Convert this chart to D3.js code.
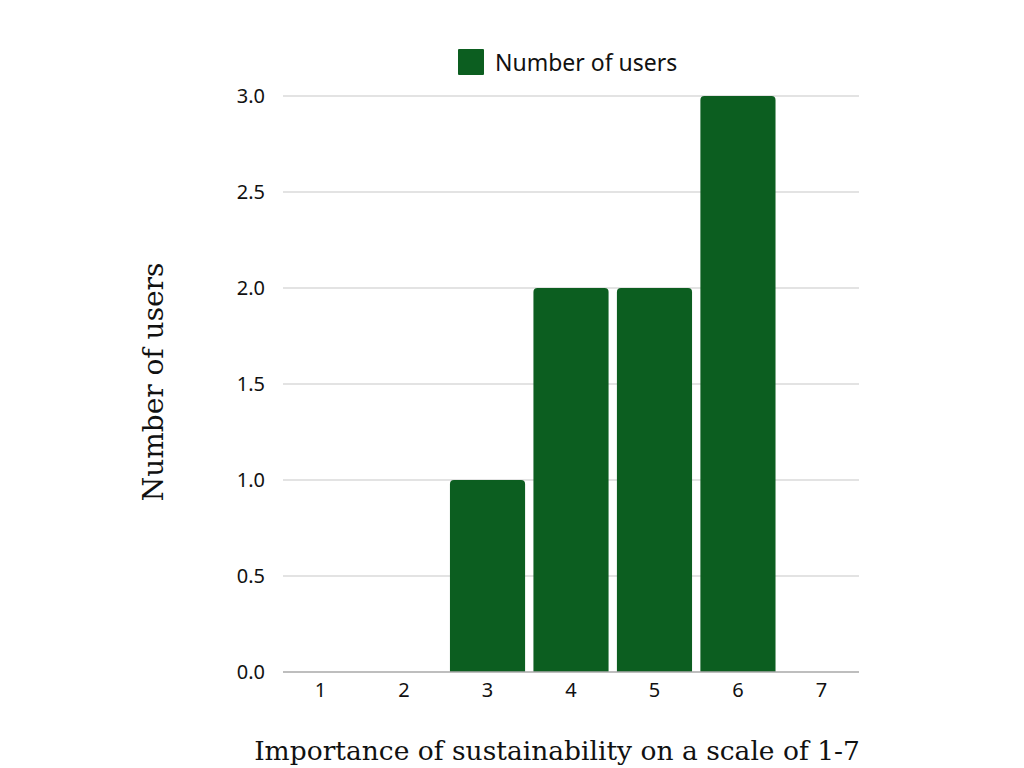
<!DOCTYPE html>
<html><head><meta charset="utf-8">
<script src="https://cdn.jsdelivr.net/npm/d3@7"></script>
<style>body{margin:0;background:#fff}svg{display:block}</style>
</head><body>
<svg id="c" width="1024" height="768"></svg>
<script>
const categories = ["1","2","3","4","5","6","7"];
const values = [0,0,1,2,2,3,0];
const yTicks = [0,0.5,1,1.5,2,2.5,3];
const seriesName = "Number of users";
const xTitle = "Importance of sustainability on a scale of 1-7";
const yTitle = "Number of users";

const svg = d3.select("#c");
const L=283, R=859, T=96, B=672;
const x = d3.scaleBand().domain(categories).range([L,R]).paddingInner(0.1).paddingOuter(0);
const y = d3.scaleLinear().domain([0,3]).range([B,T]);
const color = "#0c5e20";
const sans = "'Noto Sans', 'Open Sans', sans-serif";
const serif = "'DejaVu Serif', serif";

// gridlines
svg.append("g").selectAll("line").data(yTicks.filter(d=>d>0)).join("line")
  .attr("x1",L).attr("x2",R).attr("y1",d=>y(d)).attr("y2",d=>y(d))
  .attr("stroke","#dadada").attr("stroke-width",1.5);

// bars with rounded top corners
const r=4;
svg.append("g").selectAll("path").data(categories.map((c,i)=>({c,v:values[i]})).filter(d=>d.v>0)).join("path")
  .attr("fill",color)
  .attr("d",d=>{
    const x0=x(d.c), w=x.bandwidth(), y0=y(d.v), yb=y(0);
    return `M${x0},${yb}V${y0+r}Q${x0},${y0} ${x0+r},${y0}H${x0+w-r}Q${x0+w},${y0} ${x0+w},${y0+r}V${yb}Z`;
  });

// baseline
svg.append("line").attr("x1",L).attr("x2",R).attr("y1",B).attr("y2",B)
  .attr("stroke","#a8a8a8").attr("stroke-width",1.5);

// y axis labels
const ya = svg.append("g").attr("transform",`translate(${L},0)`)
  .call(d3.axisLeft(y).tickValues(yTicks).tickFormat(d3.format(".1f")).tickSize(0).tickPadding(18));
ya.select(".domain").remove();
ya.selectAll("text").attr("font-family",sans).attr("font-size",20).attr("fill","#111");

// x axis labels
const xa = svg.append("g").attr("transform",`translate(0,${B})`)
  .call(d3.axisBottom(x).tickSize(0).tickPadding(11));
xa.select(".domain").remove();
xa.selectAll("text").attr("font-family",sans).attr("font-size",20).attr("fill","#111");

// titles
svg.append("text").attr("x",557).attr("y",760).attr("text-anchor","middle")
  .attr("font-family",serif).attr("font-size",26.5).attr("fill","#111").text(xTitle);
svg.append("text").attr("transform","translate(163,382) rotate(-90)").attr("text-anchor","middle")
  .attr("font-family",serif).attr("font-size",28).attr("fill","#111").text(yTitle);

// legend
svg.append("rect").attr("x",458).attr("y",49).attr("width",26).attr("height",26).attr("rx",1).attr("fill",color);
svg.append("text").attr("x",495).attr("y",71).attr("font-family",sans).attr("font-size",23).attr("fill","#111").text(seriesName);
</script>
</body></html>
